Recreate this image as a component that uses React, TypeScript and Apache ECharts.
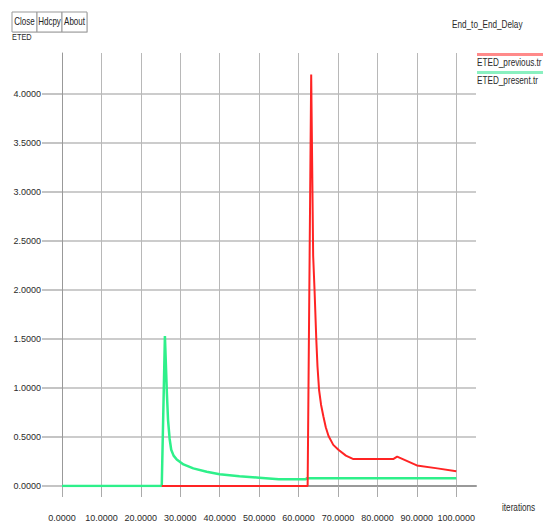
import React, { useEffect, useRef } from "react";
import * as echarts from "echarts";

const xTicks = [0, 10, 20, 30, 40, 50, 60, 70, 80, 90, 100];
const yTicks = [0, 0.5, 1.0, 1.5, 2.0, 2.5, 3.0, 3.5, 4.0];

const presentX = [0, 25.3, 26.1, 26.6, 26.9, 27.3, 27.7, 28.3, 29.1, 30.8, 33.3, 36.7, 40, 45, 50, 55, 61.8, 62.2, 70, 80, 90, 100];
const presentY = [0, 0, 1.53, 0.95, 0.67, 0.48, 0.37, 0.31, 0.27, 0.22, 0.18, 0.146, 0.12, 0.1, 0.085, 0.068, 0.07, 0.08, 0.08, 0.08, 0.08, 0.08];

const previousX = [25.3, 62.3, 63.2, 63.7, 64.05, 64.5, 64.8, 65.2, 65.7, 66.3, 66.9, 67.6, 68.8, 70.1, 72.0, 73.9, 84.0, 85.0, 90.0, 95.2, 100.0];
const previousY = [0, 0, 4.2, 2.35, 2.0, 1.49, 1.22, 0.98, 0.83, 0.71, 0.6, 0.51, 0.42, 0.37, 0.31, 0.275, 0.275, 0.3, 0.21, 0.18, 0.15];

const FONT = "'Liberation Sans', Arial, sans-serif";
const TXT = "#2a2a2a";

function pairs(xs: number[], ys: number[]) {
  return xs.map((x, i) => [x, ys[i]]);
}

function label(text: string, x: number, y: number, extra: any = {}) {
  return {
    type: "text",
    x,
    y,
    scaleX: 0.82,
    style: { text, fill: TXT, font: `10px ${FONT}`, verticalAlign: "middle", ...extra },
  };
}

function button(text: string, x: number, w: number) {
  return {
    type: "group",
    x,
    y: 12,
    children: [
      { type: "rect", shape: { x: 1, y: 1, width: w, height: 20 }, style: { fill: "#ddd" } },
      { type: "rect", shape: { x: 0, y: 0, width: w, height: 20 }, style: { fill: "#fff", stroke: "#999", lineWidth: 1 } },
      {
        type: "text",
        x: w / 2,
        y: 10,
        scaleX: 0.8,
        style: { text, fill: "#222", font: `10px ${FONT}`, align: "center", verticalAlign: "middle" },
      },
    ],
  };
}

export default function App() {
  const ref = useRef<HTMLDivElement>(null);
  useEffect(() => {
    if (!ref.current) return;
    const chart = echarts.init(ref.current, undefined, { renderer: "svg" });
    chart.setOption({
      animation: false,
      backgroundColor: "#fff",
      grid: { left: 62, right: 68, top: 53, bottom: 39, containLabel: false },
      xAxis: {
        type: "value",
        min: 0,
        max: 105,
        axisLine: { show: true, onZero: false, lineStyle: { color: "#999", width: 2 } },
        axisTick: { show: true, length: 11, customValues: xTicks, lineStyle: { color: "#aaa", width: 1 } },
        axisLabel: {
          customValues: xTicks,
          showMaxLabel: true,
          showMinLabel: true,
          margin: 27,
          color: TXT,
          fontFamily: FONT,
          fontSize: 9,
          formatter: (v: number) => v.toFixed(4),
        },
        splitLine: { show: true, lineStyle: { color: "#b8b8b8", width: 1 } },
      },
      yAxis: {
        type: "value",
        min: 0,
        max: 4.42,
        axisLine: { show: true, lineStyle: { color: "#999", width: 1 } },
        axisTick: { show: true, length: 20, customValues: yTicks, lineStyle: { color: "#c4c4c4", width: 2 } },
        axisLabel: {
          customValues: yTicks,
          margin: 21,
          color: TXT,
          fontFamily: FONT,
          fontSize: 9,
          formatter: (v: number) => v.toFixed(4),
        },
        splitLine: { show: true, lineStyle: { color: "#cccccc", width: 2 } },
      },
      series: [
        {
          name: "ETED_present.tr",
          type: "line",
          data: pairs(presentX, presentY),
          showSymbol: false,
          smooth: false,
          lineStyle: { color: "#2ef08a", width: 2.5 },
          itemStyle: { color: "#2ef08a" },
          z: 3,
        },
        {
          name: "ETED_previous.tr",
          type: "line",
          data: pairs(previousX, previousY),
          showSymbol: false,
          smooth: false,
          lineStyle: { color: "#ff2424", width: 2 },
          itemStyle: { color: "#ff2424" },
          z: 4,
        },
      ],
      graphic: [
        button("Close", 12, 25),
        button("Hdcpy", 37, 25),
        button("About", 62, 25),
        label("ETED", 12, 37, { font: `9px ${FONT}` }),
        label("End_to_End_Delay", 452, 25),
        { type: "rect", x: 477, y: 53, shape: { width: 66, height: 3 }, style: { fill: "#ff8a8a" } },
        label("ETED_previous.tr", 477, 63),
        { type: "rect", x: 477, y: 71, shape: { width: 66, height: 3 }, style: { fill: "#8af0c0" } },
        label("ETED_present.tr", 477, 81),
        label("iterations", 502, 508),
      ],
    });
    return () => chart.dispose();
  }, []);
  return (
    <div
      ref={ref}
      style={{ position: "fixed", left: 0, top: 0, width: 544, height: 525 }}
    />
  );
}
